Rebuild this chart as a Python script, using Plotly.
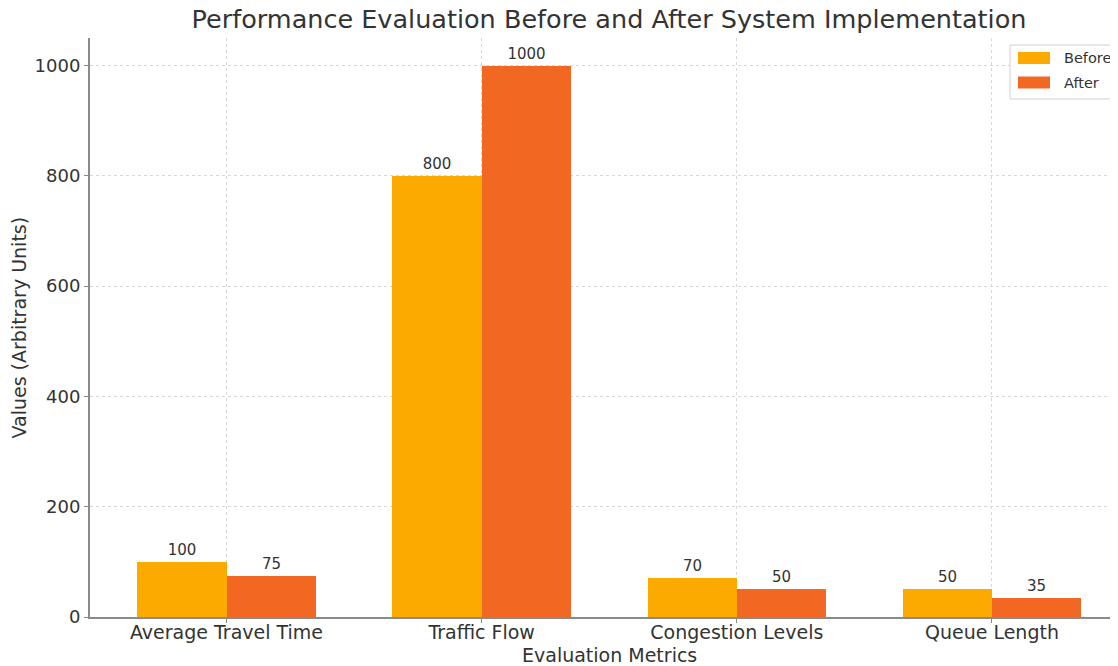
import plotly.graph_objects as go

categories = ["Average Travel Time", "Traffic Flow", "Congestion Levels", "Queue Length"]
before = [100, 800, 70, 50]
after = [75, 1000, 50, 35]
series_names = ["Before", "After"]
series_colors = ["#FDAA00", "#F26822"]
y_ticks = [0, 200, 400, 600, 800, 1000]

# page offset of the default html body margin
OFF = 8
FIG_W, FIG_H = 1118 - OFF, 666 - OFF
ML, MR, MT, MB = 90 - OFF, 0, 38 - OFF, 49
PLOT_W = FIG_W - ML - MR
PLOT_H = FIG_H - MT - MB

def px_x(page_x):
    return (page_x - OFF - ML) / PLOT_W

def px_y(page_y):
    return 1 - (page_y - OFF - MT) / PLOT_H

x_pos = list(range(len(categories)))
bar_w = 0.35

fig = go.Figure()
for i, (vals, off) in enumerate([(before, -bar_w), (after, 0)]):
    fig.add_trace(go.Bar(
        x=x_pos, y=vals, name=series_names[i], width=bar_w, offset=off,
        marker=dict(color=series_colors[i], line=dict(width=0)),
        text=[str(v) for v in vals], textposition="outside",
        textfont=dict(size=15, color="#333333"), cliponaxis=False,
        showlegend=False,
    ))

# legend (drawn manually to match wide swatches)
shapes = [dict(type="rect", xref="paper", yref="paper",
               x0=px_x(1010), x1=px_x(1126), y0=px_y(99), y1=px_y(45),
               line=dict(color="#d0d0d0", width=1), fillcolor="white", layer="above")]
annotations = []
for i, (name, col) in enumerate(zip(series_names, series_colors)):
    cy = 58 + i * 24.5
    shapes.append(dict(type="rect", xref="paper", yref="paper",
                       x0=px_x(1018), x1=px_x(1050), y0=px_y(cy + 6), y1=px_y(cy - 6),
                       line=dict(width=0), fillcolor=col, layer="above"))
    annotations.append(dict(text=name, xref="paper", yref="paper", x=px_x(1062), y=px_y(cy),
                            xanchor="left", yanchor="middle", showarrow=False,
                            font=dict(size=14.5, color="#333333")))

annotations.append(dict(text="Values (Arbitrary Units)", xref="paper", yref="paper",
                        x=px_x(18), y=0.5, xanchor="center", yanchor="middle",
                        textangle=-90, showarrow=False, font=dict(size=19, color="#333333")))
annotations.append(dict(text="Evaluation Metrics", xref="paper", yref="paper",
                        x=px_x(609), y=px_y(655), xanchor="center", yanchor="middle",
                        showarrow=False, font=dict(size=19, color="#333333")))

fig.update_layout(
    width=FIG_W, height=FIG_H,
    margin=dict(l=ML, r=MR, t=MT, b=MB, autoexpand=False),
    paper_bgcolor="white", plot_bgcolor="white",
    font=dict(family="DejaVu Sans", color="#333333"),
    title=dict(text="Performance Evaluation Before and After System Implementation",
               x=(609 - OFF) / FIG_W, xanchor="center", y=1 - (19.5 - OFF) / FIG_H, yanchor="middle",
               font=dict(size=25.5, color="#333333")),
    showlegend=False,
    bargap=0,
    shapes=shapes,
    annotations=annotations,
    xaxis=dict(
        tickmode="array", tickvals=x_pos, ticktext=categories,
        range=[-0.535, 3.494],
        showgrid=True, gridcolor="#d8d8d8", griddash="dot", gridwidth=1,
        showline=True, linecolor="#8a8a8a", linewidth=2,
        ticks="outside", ticklen=4, tickcolor="#8a8a8a",
        ticklabelstandoff=-7,
        tickfont=dict(size=19, color="#333333"),
        zeroline=False, automargin=False,
    ),
    yaxis=dict(
        range=[0, 1050], tickvals=y_ticks,
        showgrid=True, gridcolor="#d8d8d8", griddash="dot", gridwidth=1,
        showline=True, linecolor="#8a8a8a", linewidth=2,
        ticks="outside", ticklen=4, tickcolor="#8a8a8a",
        tickfont=dict(size=18, color="#333333"),
        zeroline=False, automargin=False,
    ),
)

fig.write_html("out.html")
